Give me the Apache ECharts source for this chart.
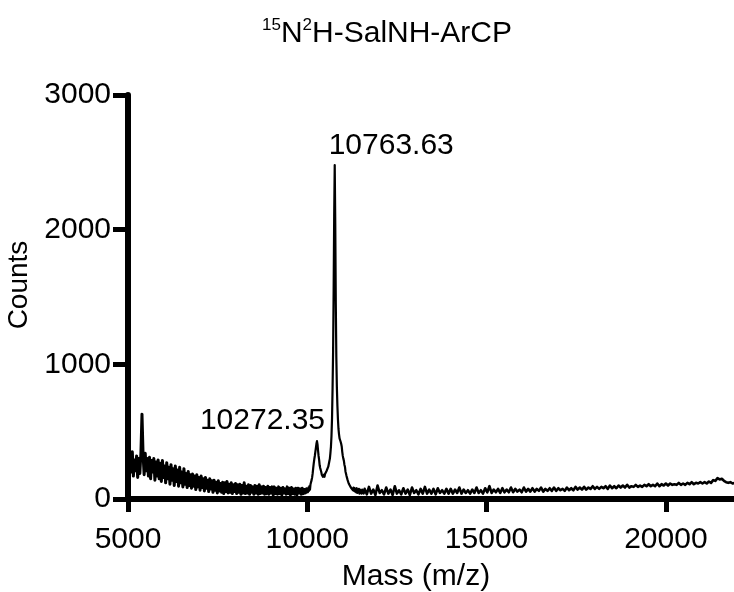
<!DOCTYPE html>
<html><head><meta charset="utf-8">
<script src="https://cdn.jsdelivr.net/npm/echarts@6/dist/echarts.min.js"></script>
<style>html,body{margin:0;padding:0;background:#fff}#c{width:734px;height:592px}</style>
</head><body><div id="c"></div>
<script>
// ---- data ----
const titleParts = ['15', 'N', '2', 'H-SalNH-ArCP'];
const xAxisName = 'Mass (m/z)';
const yAxisName = 'Counts';
const xTicks = [5000, 10000, 15000, 20000];
const yTicks = [0, 1000, 2000, 3000];

// segment 1: 5000 .. 9980, every 30
const seg1Start = 5000, seg1Step = 30;
const seg1Counts = [
  330, 180, 310, 200, 350, 170, 290, 210, 320, 160,
  300, 190, 340, 630, 330, 180, 340, 210, 300, 170,
  310, 150, 285, 200, 300, 140, 275, 170, 290, 150,
  265, 130, 285, 160, 245, 120, 270, 150, 235, 110,
  255, 140, 225, 100, 245, 130, 215, 95, 235, 120,
  200, 90, 225, 110, 190, 85, 205, 100, 180, 80,
  185, 95, 170, 70, 180, 90, 160, 65, 170, 85,
  150, 60, 160, 80, 140, 55, 150, 75, 135, 50,
  140, 65, 125, 45, 135, 60, 115, 50, 125, 40,
  120, 55, 130, 45, 110, 50, 120, 40, 105, 55,
  115, 40, 105, 50, 110, 35, 100, 45, 120, 40,
  95, 45, 105, 35, 100, 50, 90, 35, 100, 45,
  95, 35, 105, 40, 90, 45, 95, 35, 85, 40,
  95, 35, 85, 45, 90, 30, 90, 40, 80, 35,
  90, 40, 80, 30, 85, 45, 75, 35, 90, 40,
  80, 30, 85, 40, 75, 35, 80, 30, 80, 45,
  75, 35, 80, 40, 70, 45, 75
];

// segment 2: 10000 .. 11590, every 15 (peak region)
const seg2Start = 10000, seg2Step = 15;
const seg2Counts = [
  75, 50, 85, 60, 95, 70, 110, 100, 140, 160,
  190, 230, 265, 295, 320, 350, 380, 410, 430, 405,
  360, 320, 290, 250, 230, 215, 200, 180, 170, 165,
  170, 180, 165, 185, 190, 180, 210, 220, 215, 240,
  250, 280, 300, 340, 390, 470, 600, 820, 1100, 1550,
  2100, 2480, 2050, 1450, 1050, 830, 690, 590, 520, 480,
  450, 440, 425, 410, 390, 350, 320, 300, 285, 255,
  240, 205, 195, 170, 160, 140, 135, 115, 120, 100,
  105, 85, 95, 75, 90, 65, 85, 60, 80, 55,
  75, 50, 80, 45, 70, 50, 75, 40, 70, 45,
  65, 40, 70, 45, 65, 40, 60
];

// segment 3: 11600 .. 21920, every 60
const seg3Start = 11600, seg3Step = 60;
const seg3Counts = [
  75, 35, 90, 40, 70, 30, 100, 45, 65, 35,
  85, 40, 70, 30, 95, 40, 65, 35, 80, 40,
  70, 30, 85, 45, 65, 35, 75, 40, 90, 40,
  70, 40, 75, 35, 80, 45, 65, 40, 75, 40,
  75, 40, 70, 45, 85, 40, 70, 45, 65, 40,
  70, 45, 85, 45, 65, 40, 80, 50, 95, 45,
  70, 50, 75, 45, 80, 50, 70, 50, 85, 50,
  75, 55, 70, 50, 85, 55, 75, 55, 80, 55,
  75, 60, 85, 55, 75, 60, 80, 60, 85, 60,
  80, 65, 75, 60, 85, 65, 80, 65, 90, 70,
  85, 70, 90, 70, 85, 75, 95, 75, 90, 75,
  90, 80, 95, 75, 100, 80, 95, 80, 100, 85,
  100, 85, 105, 85, 95, 90, 105, 90, 100, 90,
  105, 95, 110, 95, 105, 95, 115, 95, 110, 100,
  115, 100, 115, 105, 110, 105, 120, 105, 115, 105,
  120, 110, 125, 110, 120, 115, 125, 115, 125, 115,
  130, 120, 140, 135, 155, 145, 150, 135, 125, 120,
  125, 115, 120
];

const peakMasses = [10272.35, 10763.63];
const peakCounts = [430, 2480];
const peakLabels = ['10272.35', '10763.63'];

// ---- build ----
const FONT = '"Liberation Sans", Arial, Helvetica, sans-serif';
function seg(start, step, arr) { return arr.map((v, i) => [start + i * step, v]); }
const d1 = seg(seg1Start, seg1Step, seg1Counts);
const d2 = seg(seg2Start, seg2Step, seg2Counts);
const d3 = seg(seg3Start, seg3Step, seg3Counts);
// join segments so the trace is continuous
const d2j = [d1[d1.length - 1]].concat(d2);
const d3j = [d2[d2.length - 1]].concat(d3);

function lineSeries(data, width) {
  return {
    type: 'line', data: data, symbol: 'none', silent: true,
    lineStyle: { color: '#000', width: width, join: 'round', cap: 'round' }, z: 2
  };
}

const labelPlacement = [
  { position: [9, -19], align: 'right', verticalAlign: 'middle' },
  { position: [-5, -18], align: 'left', verticalAlign: 'middle' }
];
const peakData = peakMasses.map((m, i) => ({
  value: [m, peakCounts[i]],
  label: Object.assign({ show: true, formatter: peakLabels[i], color: '#000', opacity: 1, fontSize: 30, fontFamily: FONT }, labelPlacement[i])
}));

const chart = echarts.init(document.getElementById('c'), null, { renderer: 'canvas' });
chart.setOption({
  animation: false,
  backgroundColor: '#fff',
  title: {
    text: '{sup|' + titleParts[0] + '}{main|' + titleParts[1] + '}{sup|' + titleParts[2] + '}{main|' + titleParts[3] + '}',
    left: 257, top: 12,
    textStyle: {
      fontWeight: 'normal',
      rich: {
        main: { fontSize: 30, fontFamily: FONT, fontWeight: 'normal', color: '#000', lineHeight: 32, verticalAlign: 'bottom' },
        sup: { fontSize: 17, fontFamily: FONT, fontWeight: 'normal', color: '#000', lineHeight: 18, verticalAlign: 'top' }
      }
    }
  },
  grid: { left: 128, right: 0, top: 95, bottom: 93, containLabel: false, outerBoundsMode: 'none' },
  xAxis: {
    type: 'value', min: 5000, max: 21900, interval: 5000,
    name: xAxisName, nameLocation: 'middle', nameGap: 63,
    nameTextStyle: { fontSize: 30, fontFamily: FONT, color: '#000', padding: [0, 30, 0, 0] },
    axisLine: { show: true, onZero: false, lineStyle: { color: '#000', width: 6 } },
    axisTick: { show: true, length: 13, customValues: xTicks, lineStyle: { color: '#000', width: 5 } },
    axisLabel: { fontSize: 30, fontFamily: FONT, color: '#000', margin: 26, customValues: xTicks, formatter: v => String(v) },
    splitLine: { show: false }
  },
  yAxis: {
    type: 'value', min: 0, max: 3000, interval: 1000,
    name: yAxisName, nameLocation: 'middle', nameGap: 86, nameRotate: 90,
    nameTextStyle: { fontSize: 28, fontFamily: FONT, color: '#000', padding: [0, 0, 0, 24] },
    axisLine: { show: true, lineStyle: { color: '#000', width: 6 } },
    axisTick: { show: true, length: 15, customValues: yTicks, lineStyle: { color: '#000', width: 5 } },
    axisLabel: { fontSize: 30, fontFamily: FONT, color: '#000', margin: 17, customValues: yTicks, formatter: v => String(v) },
    splitLine: { show: false }
  },
  series: [
    lineSeries(d1, 3),
    lineSeries(d2j, 2.2),
    lineSeries(d3j, 2.6),
    {
      type: 'scatter', data: peakData, symbolSize: 2, silent: true,
      itemStyle: { color: 'rgba(0,0,0,0)', opacity: 1 },
      label: { fontSize: 30, fontFamily: FONT, color: '#000' }, z: 3
    }
  ]
});
</script></body></html>
